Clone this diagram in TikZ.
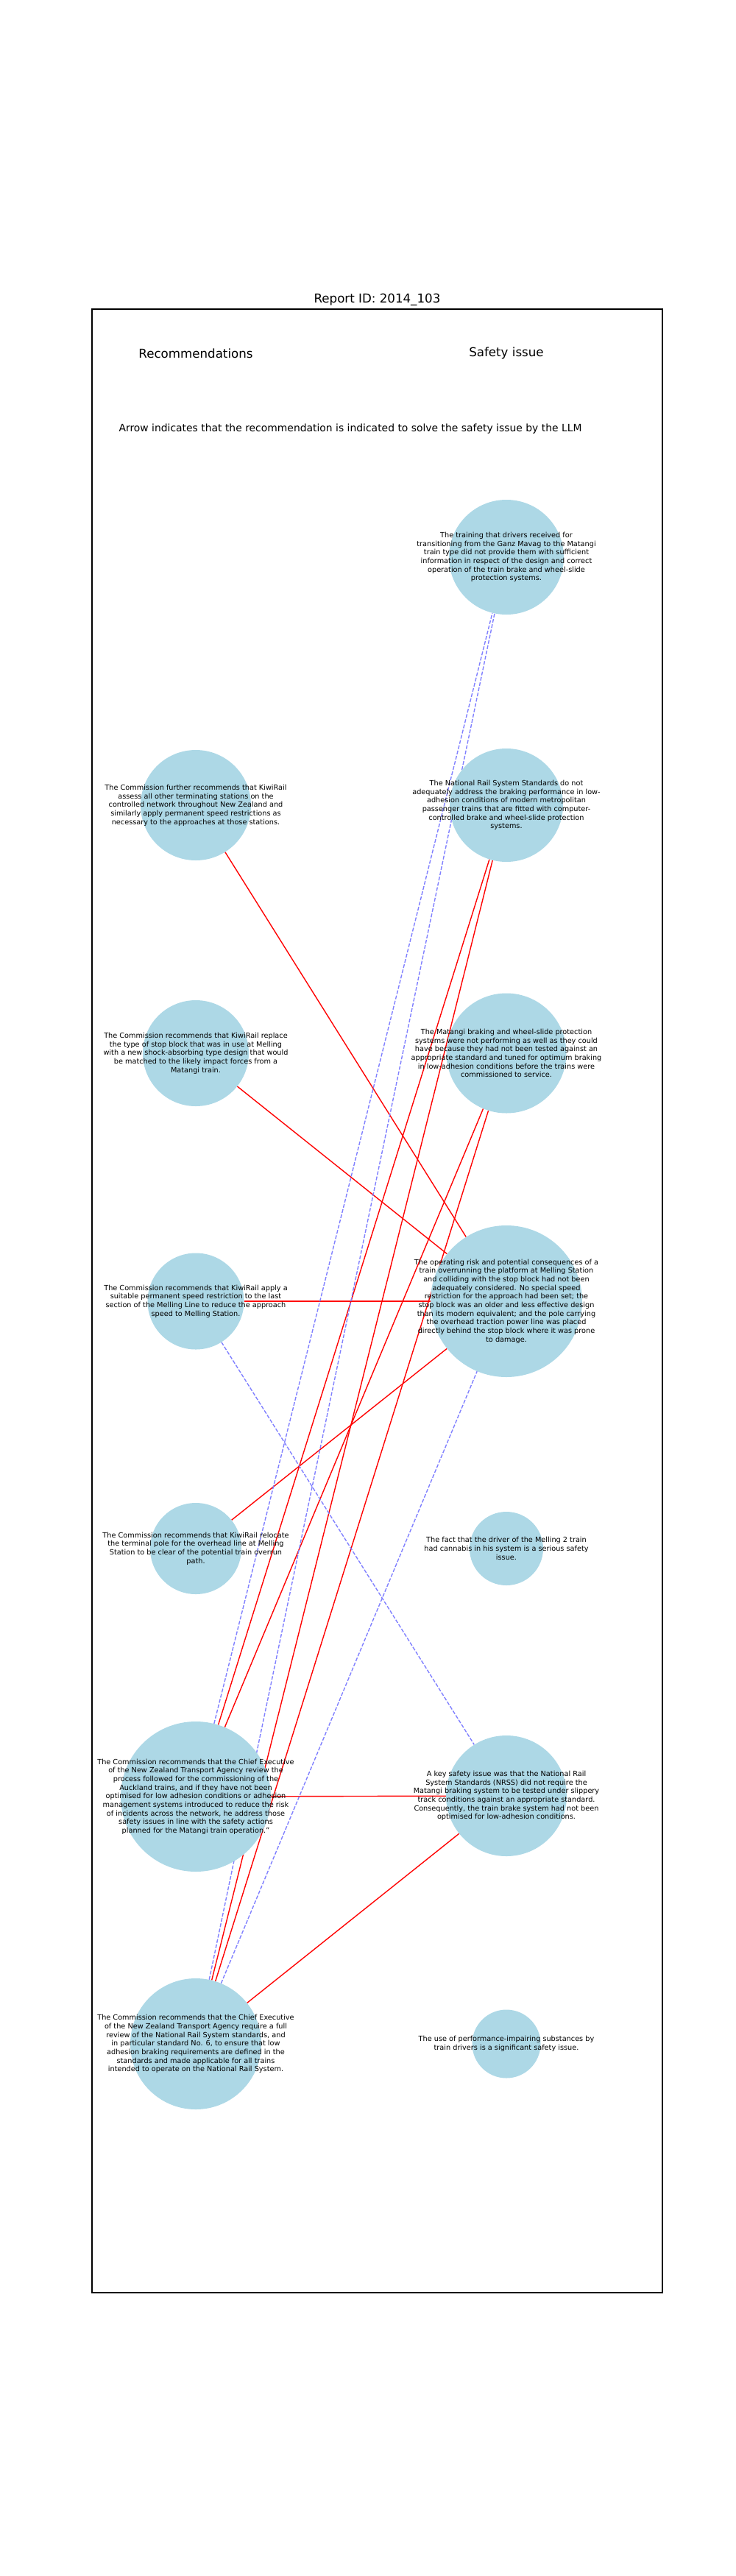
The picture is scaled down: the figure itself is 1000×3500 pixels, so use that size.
\documentclass[tikz,border=0pt]{standalone}
\usepackage{fontspec}
\setmainfont{DejaVu Sans}
\usetikzlibrary{backgrounds}

\definecolor{bubble}{RGB}{173,216,230}
\definecolor{llmblue}{RGB}{128,128,255}

\begin{document}
\begin{tikzpicture}[x=1pt,y=-1pt,
    bubble/.style={circle,fill=bubble,inner sep=0pt},
    bubbletext/.style={align=center,font=\fontsize{9.72}{11.67}\selectfont},
    solved/.style={red,line width=1.39pt},
    hinted/.style={llmblue,line width=1.39pt,dash pattern=on 5.1pt off 2.2pt}]

        \useasboundingbox (0,0) rectangle (1000,3500);

        % title, frame and headings
        \node[anchor=base,font=\fontsize{16.67}{20}\selectfont] (title) at (512.5,411.7) {Report ID: 2014\_103};
        \draw[line width=1.11pt] (125,420) rectangle (900,3115);
        \node[font=\fontsize{16.67}{20}\selectfont] (rechead) at (266,480) {Recommendations};
        \node[font=\fontsize{16.67}{20}\selectfont] (isshead) at (688,480) {Safety issue};
        \node[font=\fontsize{13.9}{16.7}\selectfont] (legend) at (476,583) {Arrow indicates that the recommendation is indicated to solve the safety issue by the LLM};

        % safety issues
        \node[bubble,minimum size=156pt,label={[bubbletext]center:The training that drivers received for\\transitioning from the Ganz Mavag to the Matangi\\train type did not provide them with sufficient\\information in respect of the design and correct\\operation of the train brake and wheel-slide\\protection systems.}] (s1) at (688,757) {};
        \node[bubble,minimum size=154pt,label={[bubbletext]center:The National Rail System Standards do not\\adequately address the braking performance in low-\\adhesion conditions of modern metropolitan\\passenger trains that are fitted with computer-\\controlled brake and wheel-slide protection\\systems.}] (s2) at (688,1094) {};
        \node[bubble,minimum size=163pt,label={[bubbletext]center:The Matangi braking and wheel-slide protection\\systems were not performing as well as they could\\have because they had not been tested against an\\appropriate standard and tuned for optimum braking\\in low-adhesion conditions before the trains were\\commissioned to service.}] (s3) at (688,1431) {};
        \node[bubble,minimum size=206pt,label={[bubbletext]center:The operating risk and potential consequences of a\\train overrunning the platform at Melling Station\\and colliding with the stop block had not been\\adequately considered. No special speed\\restriction for the approach had been set; the\\stop block was an older and less effective design\\than its modern equivalent; and the pole carrying\\the overhead traction power line was placed\\directly behind the stop block where it was prone\\to damage.}] (s4) at (688,1768) {};
        \node[bubble,minimum size=100pt,label={[bubbletext]center:The fact that the driver of the Melling 2 train\\had cannabis in his system is a serious safety\\issue.}] (s5) at (688,2104) {};
        \node[bubble,minimum size=164pt,label={[bubbletext]center:A key safety issue was that the National Rail\\System Standards (NRSS) did not require the\\Matangi braking system to be tested under slippery\\track conditions against an appropriate standard.\\Consequently, the train brake system had not been\\optimised for low-adhesion conditions.}] (s6) at (688,2440) {};
        \node[bubble,minimum size=93pt,label={[bubbletext]center:The use of performance-impairing substances by\\train drivers is a significant safety issue.}] (s7) at (688,2777) {};

        % recommendations
        \node[bubble,minimum size=150pt,label={[bubbletext]center:The Commission further recommends that KiwiRail\\assess all other terminating stations on the\\controlled network throughout New Zealand and\\similarly apply permanent speed restrictions as\\necessary to the approaches at those stations.}] (r1) at (266,1094) {};
        \node[bubble,minimum size=144pt,label={[bubbletext]center:The Commission recommends that KiwiRail replace\\the type of stop block that was in use at Melling\\with a new shock-absorbing type design that would\\be matched to the likely impact forces from a\\Matangi train.}] (r2) at (266,1431) {};
        \node[bubble,minimum size=131pt,label={[bubbletext]center:The Commission recommends that KiwiRail apply a\\suitable permanent speed restriction to the last\\section of the Melling Line to reduce the approach\\speed to Melling Station.}] (r3) at (266,1768) {};
        \node[bubble,minimum size=124pt,label={[bubbletext]center:The Commission recommends that KiwiRail relocate\\the terminal pole for the overhead line at Melling\\Station to be clear of the potential train overrun\\path.}] (r4) at (266,2104) {};
        \node[bubble,minimum size=204pt,label={[bubbletext]center:The Commission recommends that the Chief Executive\\of the New Zealand Transport Agency review the\\process followed for the commissioning of the\\Auckland trains, and if they have not been\\optimised for low adhesion conditions or adhesion\\management systems introduced to reduce the risk\\of incidents across the network, he address those\\safety issues in line with the safety actions\\planned for the Matangi train operation."}] (r5) at (266,2441) {};
        \node[bubble,minimum size=178pt,label={[bubbletext]center:The Commission recommends that the Chief Executive\\of the New Zealand Transport Agency require a full\\review of the National Rail System standards, and\\in particular standard No. 6, to ensure that low\\adhesion braking requirements are defined in the\\standards and made applicable for all trains\\intended to operate on the National Rail System.}] (r6) at (266,2777) {};

        % links
        \begin{scope}[on background layer]
        \draw[solved] (r1) -- (s4);
        \draw[solved] (r2) -- (s4);
        \draw[solved] (r3) -- (s4);
        \draw[solved] (r4) -- (s4);
        \draw[solved] (r5) -- (s2);
        \draw[solved] (r5) -- (s3);
        \draw[solved] (r5) -- (s6);
        \draw[solved] (r6) -- (s2);
        \draw[solved] (r6) -- (s3);
        \draw[solved] (r6) -- (s6);
        \draw[hinted] (r5) -- (s1);
        \draw[hinted] (r6) -- (s1);
        \draw[hinted] (r3) -- (s6);
        \draw[hinted] (r6) -- (s4);
        \end{scope}
    \end{tikzpicture}
\end{document}
